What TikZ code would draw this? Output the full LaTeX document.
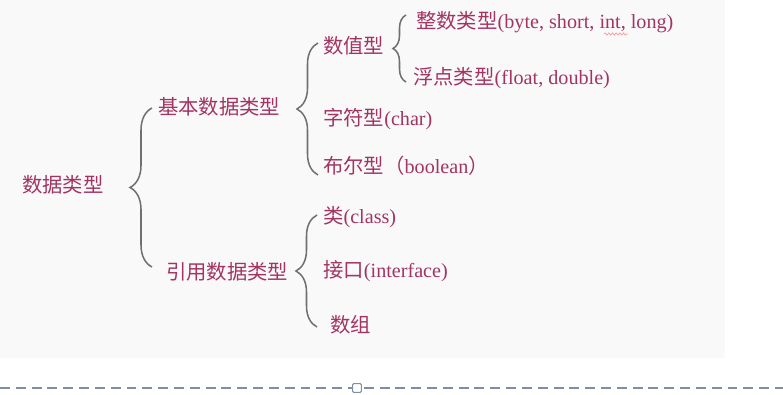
\documentclass[tikz,border=0pt]{standalone}
\usepackage{fontspec}
\setmainfont{Liberation Serif}
\newfontfamily\cjk[Scale=1.01]{Noto Sans CJK SC}
\usetikzlibrary{decorations.pathreplacing,decorations.pathmorphing}

\definecolor{termred}{RGB}{163,52,98}
\definecolor{bracegray}{RGB}{112,112,112}
\definecolor{panelgray}{RGB}{249,249,250}
\definecolor{rulegray}{RGB}{128,142,165}

\begin{document}
\begin{tikzpicture}[
    x=0.3mm, y=-0.3mm,
    term/.style={anchor=west,
        inner sep=0pt,
        text=termred,
        font=\fontsize{17.2}{20}\selectfont},
    bracket/.style={decorate,
        draw=bracegray,
        line width=1.3pt},
    handle/.style={rectangle,
        draw=rulegray,
        fill=white,
        line width=0.8pt,
        rounded corners=1pt,
        minimum size=7.5pt,
        inner sep=0pt},
    ]

    \useasboundingbox (0,0) rectangle (783,395);
    \fill[panelgray] (0,0) rectangle (725,358);

    % terms
    \node [term] (datatype) at (22,185) {\cjk 数据类型};
    \node [term] (primitive) at (158,107) {\cjk 基本数据类型};
    \node [term] (reference) at (166,272) {\cjk 引用数据类型};
    \node [term] (numeric) at (323,46) {\cjk 数值型};
    \node [term] (character) at (323,119) {{\cjk 字符型}(char)};
    \node [term] (boolean) at (323,166) {{\cjk 布尔型（}boolean{\cjk ）}};
    \node [term] (integer) at (416,22) {{\cjk 整数类型}(byte, short, int, long)};
    \node [term] (floating) at (413,78) {{\cjk 浮点类型}(float, double)};
    \node [term] (class) at (323,217) {{\cjk 类}(class)};
    \node [term] (interface) at (323,271) {{\cjk 接口}(interface)};
    \node [term] (array) at (330,325) {\cjk 数组};

    % brace ends
    \coordinate (datatype-top) at (152,108);
    \coordinate (datatype-bot) at (152,267);
    \coordinate (primitive-top) at (318,43);
    \coordinate (primitive-bot) at (318,175);
    \coordinate (numeric-top) at (406,15);
    \coordinate (numeric-bot) at (406,82);
    \coordinate (reference-top) at (317,215);
    \coordinate (reference-bot) at (317,327);

    \draw[bracket, decoration={brace,amplitude=6.6mm}] (datatype-bot) -- (datatype-top);
    \draw[bracket, decoration={brace,amplitude=6.3mm}] (primitive-bot) -- (primitive-top);
    \draw[bracket, decoration={brace,amplitude=3.9mm}] (numeric-bot) -- (numeric-top);
    \draw[bracket, decoration={brace,amplitude=6.3mm}] (reference-bot) -- (reference-top);

    % spell-check squiggle under "int"
    \coordinate (squiggle-a) at (604,34);
    \coordinate (squiggle-b) at (628,34);
    \draw[red!45, line width=0.5pt, decorate,
        decoration={snake,amplitude=0.35mm,segment length=1.1mm}] (squiggle-a) -- (squiggle-b);

    % slide edge with resize handle
    \coordinate (edge-l) at (0,388);
    \coordinate (edge-r) at (783,388);
    \draw[rulegray, line width=1pt, dash pattern=on 8.5pt off 5pt] (edge-l) -- (edge-r);
    \node [handle] (grip) at (357,388) {};
\end{tikzpicture}
\end{document}
